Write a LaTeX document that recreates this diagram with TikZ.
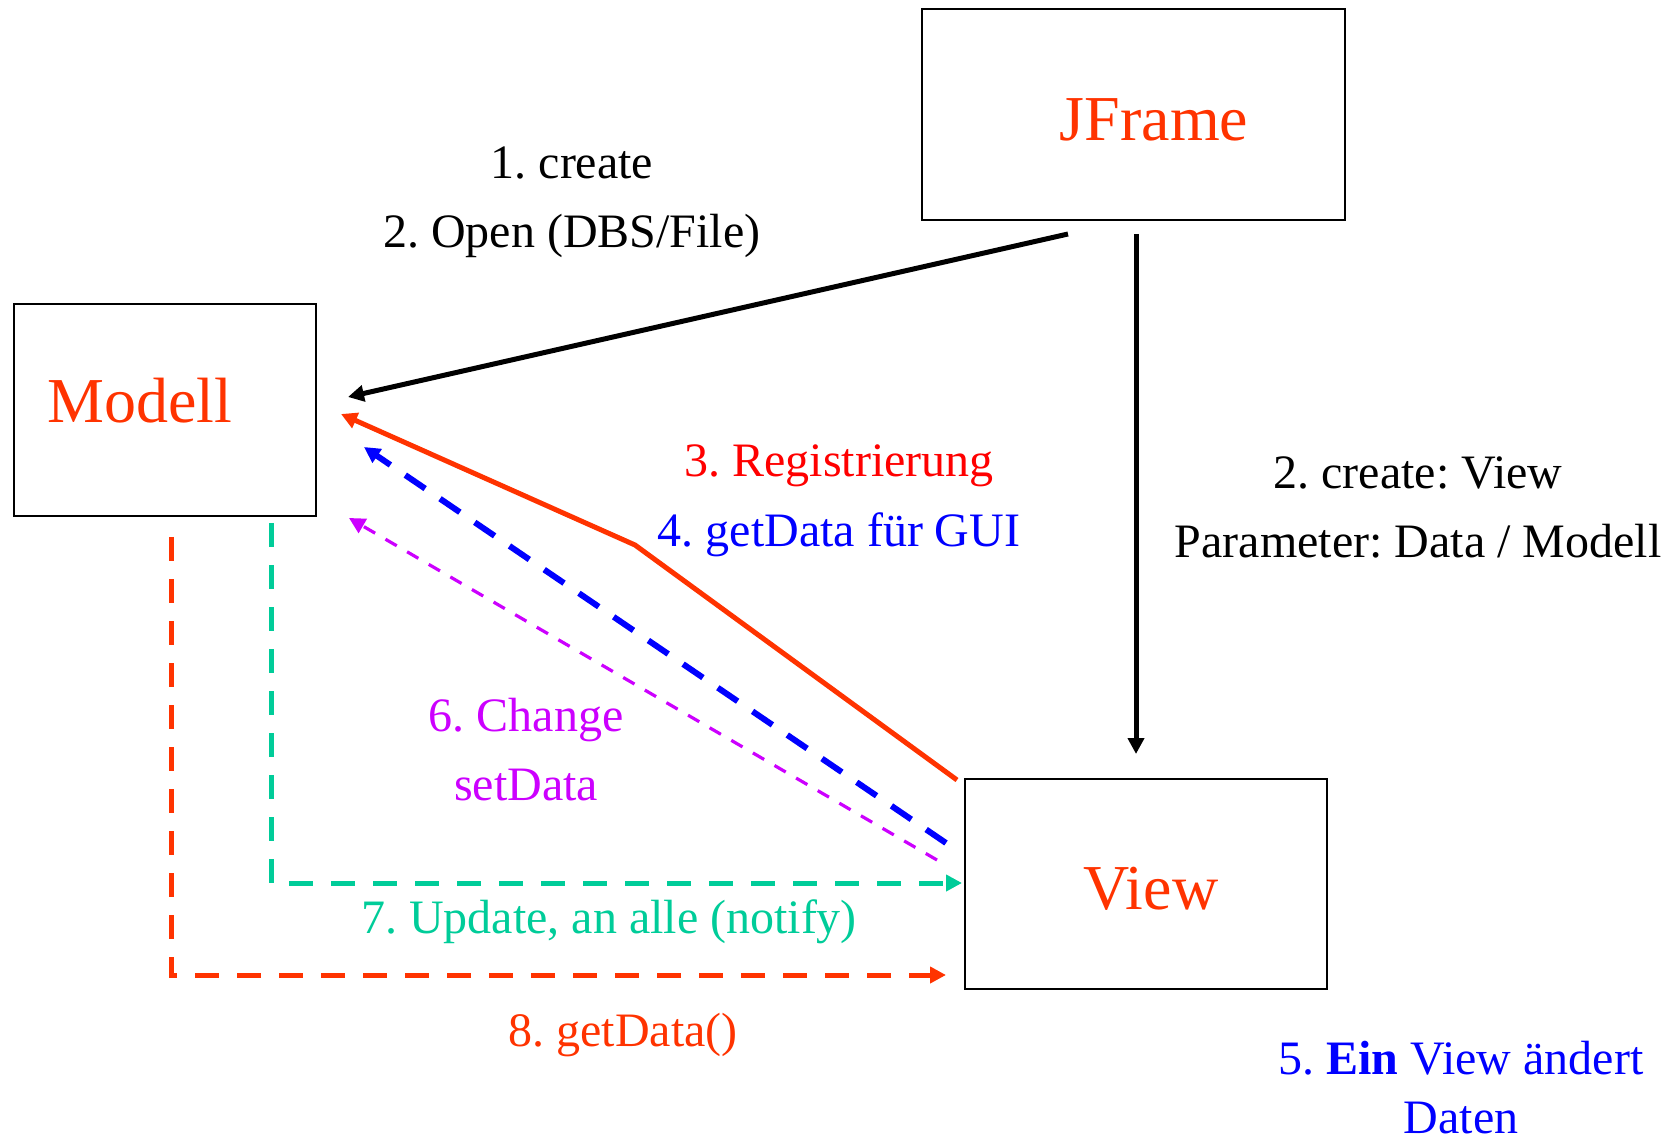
\documentclass[tikz,border=0pt]{standalone}
\usepackage{fontspec}
\setmainfont{Liberation Serif}
\usetikzlibrary{arrows.meta}
\frenchspacing
\definecolor{orred}{HTML}{FF3300}
\definecolor{lblred}{HTML}{FF0000}
\definecolor{lblblue}{HTML}{0000FF}
\definecolor{lblviolet}{HTML}{CC00FF}
\definecolor{lblgreen}{HTML}{00CC99}
\tikzset{
  box/.style={draw=black, line width=1pt, inner sep=0pt},
  title/.style={text=orred, font=\fontsize{32}{38}\selectfont, inner sep=0pt},
  lbl/.style={font=\fontsize{24}{34.5}\selectfont, align=center, inner sep=0pt},
  tip/.style={-{Triangle[length=8pt,width=8pt]}},
  callarrow/.style={tip, line width=2.5pt, draw=black},
  regline/.style={tip, line width=2.5pt, draw=orred},
  getline/.style={tip, line width=3pt, draw=lblblue, dash pattern=on 12pt off 9pt},
  setline/.style={tip, line width=1.6pt, draw=lblviolet, dash pattern=on 6.5pt off 6pt},
  notifyline/.style={tip, line width=2.5pt, draw=lblgreen, dash pattern=on 12pt off 9pt},
  fetchline/.style={tip, line width=2.5pt, draw=orred, dash pattern=on 12pt off 9pt},
}
\begin{document}
\begin{tikzpicture}[x=0.5pt,y=-0.5pt]
\useasboundingbox (0,0) rectangle (1675,1138);

% the three components
\node[box, minimum width=211.5pt, minimum height=105.5pt] (jframe) at (1133.5,114.5) {};
\node[box, minimum width=151pt, minimum height=106pt] (modell) at (165,410) {};
\node[box, minimum width=181pt, minimum height=105pt] (view) at (1146,884) {};
\node[title] (jframeT) at (1154,120) {JFrame};
\node[title] (modellT) at (140,401) {Modell};
\node[title] (viewT) at (1151,889) {View};

% end points of the connectors
\coordinate (jfA) at ([shift={(-65.5,13)}]jframe.south);
\coordinate (jfB) at ([shift={(2.5,13)}]jframe.south);
\coordinate (moA) at ([shift={(31,-13)}]modell.east);
\coordinate (moR) at ([shift={(24,4)}]modell.east);
\coordinate (moG) at ([shift={(47,37)}]modell.east);
\coordinate (moS) at ([shift={(32,1)}]modell.south east);
\coordinate (moN) at ([shift={(106,6)}]modell.south);
\coordinate (moD) at ([shift={(6,20)}]modell.south);
\coordinate (viA) at ([shift={(-10,-24)}]view.north);
\coordinate (viR) at ([shift={(-7,2)}]view.north west);
\coordinate (regBend) at (635,545);
\coordinate (viG) at ([shift={(-18,-41)}]view.west);
\coordinate (viS) at ([shift={(-27,-24)}]view.west);
\coordinate (viN) at ([shift={(-2,-1)}]view.west);
\coordinate (viD) at ([shift={(-18,-15)}]view.south west);

% connectors
\draw[callarrow] (jfA) -- (moA);
\draw[callarrow] (jfB) -- (viA);
\draw[regline] (viR) -- (regBend) -- (moR);
\draw[getline] (viG) -- (moG);
\draw[setline] (viS) -- (moS);
\draw[notifyline] (moN) |- (viN);
\draw[fetchline] (moD) |- (viD);

% labels
\node[lbl] (l1) at (572,202) {1. create\\2. Open (DBS/File)};
\node[lbl] (l2) at (1418,507.5) {2. create: View\\Parameter: Data / Modell};
\node[lbl, text=lblred] (l3) at (839,466) {3. Registrierung};
\node[lbl, text=lblblue] (l4) at (839,535) {4. getData für GUI};
\node[lbl, text=lblblue, font=\fontsize{24}{29.5}\selectfont] (l5) at (1461,1088) {5. \textbf{Ein} View ändert\\Daten};
\node[lbl, text=lblviolet] (l6) at (526,750) {6. Change\\setData};
\node[lbl, text=lblgreen] (l7) at (609,922) {7. Update, an alle (notify)};
\node[lbl, text=orred] (l8) at (623,1035) {8. getData()};
\end{tikzpicture}
\end{document}
